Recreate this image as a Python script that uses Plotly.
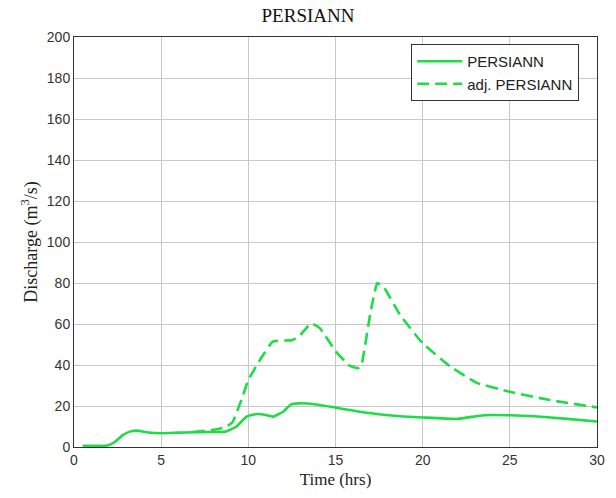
import plotly.graph_objects as go

# PERSIANN (solid)
t_p = [0.5, 1.0, 1.85, 2.3, 2.8, 3.2, 3.6, 4.15, 5.0, 6.0, 6.8, 7.8, 8.7, 9.3, 9.9, 10.5, 11.0, 11.4, 12.0, 12.45, 12.9, 14.0, 15.0, 16.8, 18.7, 20.0, 22.0, 23.5, 25.0, 26.4, 28.3, 30.0]
q_p = [0.6, 0.6, 0.6, 2.2, 5.8, 7.5, 8.0, 7.2, 6.7, 7.0, 7.2, 7.3, 7.5, 9.9, 14.8, 16.1, 15.6, 14.8, 17.2, 20.8, 21.3, 20.6, 19.2, 16.7, 15.0, 14.4, 13.7, 15.5, 15.5, 15.0, 13.7, 12.4]

# adj. PERSIANN (dashed)
t_a = [6.8, 8.1, 8.7, 9.1, 9.6, 10.0, 10.6, 11.4, 12.55, 12.9, 13.6, 14.1, 15.0, 15.8, 16.3, 16.5, 17.0, 17.4, 17.8, 18.7, 20.0, 21.6, 23.1, 25.0, 27.3, 30.0]
q_a = [7.3, 8.5, 9.8, 12.2, 22.9, 32.7, 41.6, 51.4, 52.2, 53.9, 60.3, 58.0, 46.8, 39.7, 38.4, 40.5, 65.3, 80.0, 77.6, 64.5, 50.6, 39.2, 31.3, 26.9, 22.9, 19.3]

x_ticks = [0, 5, 10, 15, 20, 25, 30]
y_ticks = [0, 20, 40, 60, 80, 100, 120, 140, 160, 180, 200]

green = "#1fdc46"

fig = go.Figure()
fig.add_trace(go.Scatter(x=t_p, y=q_p, mode="lines", name="PERSIANN",
                         line=dict(color=green, width=2.6, shape="spline", smoothing=0.4)))
fig.add_trace(go.Scatter(x=t_a, y=q_a, mode="lines", name="adj. PERSIANN",
                         line=dict(color=green, width=2.6, dash="12px,6px", shape="spline", smoothing=0.35)))

axis_common = dict(showgrid=True, gridcolor="#c8c8c8", gridwidth=1,
                   showline=True, linecolor="#333333", linewidth=1, mirror=True,
                   ticks="", zeroline=False,
                   tickfont=dict(family="Liberation Sans, Arial, sans-serif", size=14, color="#333333"))

fig.update_layout(
    width=616, height=498,
    margin=dict(l=74, r=19, t=37, b=51),
    paper_bgcolor="white", plot_bgcolor="white",
    title=dict(text="PERSIANN", x=0.5, xanchor="center", y=0.97, yanchor="middle",
               font=dict(family="Liberation Serif, Times New Roman, serif", size=19, color="#111111")),
    xaxis=dict(range=[0, 30], tickvals=x_ticks,
               title=dict(text="Time (hrs)", standoff=6,
                          font=dict(family="Liberation Serif, Times New Roman, serif", size=17, color="#222222")),
               **axis_common),
    yaxis=dict(range=[0, 200], tickvals=y_ticks,
               title=dict(text="Discharge (m<sup>3</sup>/s)", standoff=4,
                          font=dict(family="Liberation Serif, Times New Roman, serif", size=18, color="#222222")),
               **axis_common),
    legend=dict(x=0.966, y=0.983, xanchor="right", yanchor="top",
                bgcolor="white", bordercolor="#333333", borderwidth=1,
                itemwidth=45,
                font=dict(family="Liberation Sans, Arial, sans-serif", size=15, color="#222222"),
                tracegroupgap=0),
    showlegend=True,
)

fig.write_html("out.html")
